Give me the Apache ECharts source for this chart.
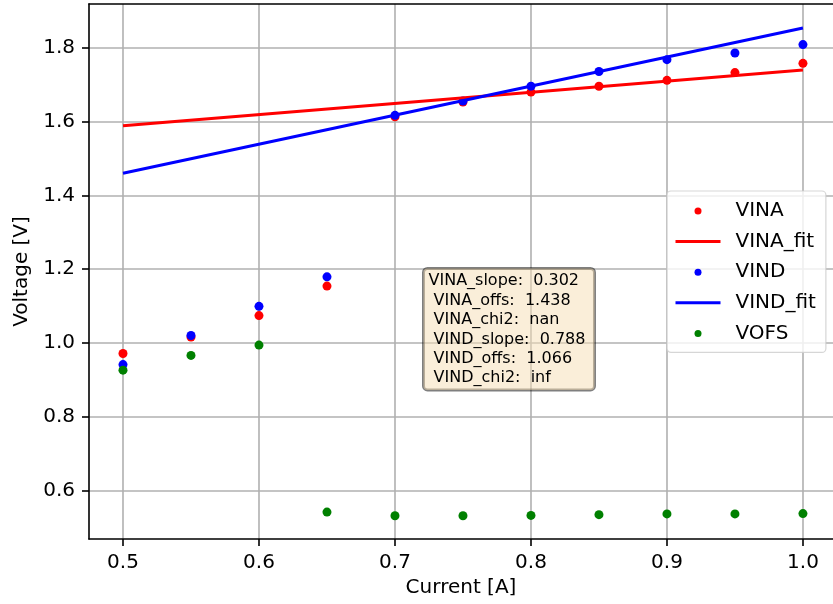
<!DOCTYPE html>
<html>
<head>
<meta charset="utf-8">
<script src="https://cdn.jsdelivr.net/npm/echarts@6/dist/echarts.min.js"></script>
<style>html,body{margin:0;padding:0;background:#fff;}#c{width:833px;height:604px;}</style>
</head>
<body>
<div id="c"></div>
<script>
const current = [0.5, 0.55, 0.6, 0.65, 0.7, 0.75, 0.8, 0.85, 0.9, 0.95, 1.0];
const VINA = [0.971, 1.016, 1.074, 1.154, 1.613, 1.653, 1.680, 1.696, 1.712, 1.733, 1.758];
const VIND = [0.941, 1.020, 1.099, 1.179, 1.617, 1.656, 1.696, 1.736, 1.768, 1.786, 1.809];
const VOFS = [0.926, 0.966, 0.994, 0.541, 0.531, 0.531, 0.532, 0.534, 0.536, 0.536, 0.537];
const fitX = [0.5, 1.0];
const VINA_fit = [1.589, 1.740];
const VIND_fit = [1.460, 1.854];
const xTicks = [0.5, 0.6, 0.7, 0.8, 0.9, 1.0];
const yTicks = [0.6, 0.8, 1.0, 1.2, 1.4, 1.6, 1.8];
const fitText = [
  'VINA_slope:  0.302',
  ' VINA_offs:  1.438',
  ' VINA_chi2:  nan',
  ' VIND_slope:  0.788',
  ' VIND_offs:  1.066',
  ' VIND_chi2:  inf'
];

const pair = (xs, ys) => xs.map((x, i) => [x, ys[i]]);
const FONT = 'DejaVu Sans';
const X_MIN = 0.475, X_MAX = 1.0221;
const chart = echarts.init(document.getElementById('c'), null, {renderer: 'canvas'});
const axisCommon = {
  type: 'value',
  nameLocation: 'middle',
  nameTextStyle: {fontFamily: FONT, fontSize: 20, color: '#000'},
  axisLine: {show: true, lineStyle: {color: '#000', width: 1.6}},
  axisTick: {show: true, length: 7, lineStyle: {color: '#000', width: 1.6}},
  axisLabel: {fontFamily: FONT, fontSize: 20, color: '#000', formatter: v => v.toFixed(1)},
  splitLine: {show: true, lineStyle: {color: '#b0b0b0', width: 1.6}}
};
chart.setOption({
  animation: false,
  backgroundColor: '#fff',
  grid: {left: 89, right: 0, top: 4, bottom: 65},
  xAxis: [
    Object.assign({}, axisCommon, {
      min: X_MIN, max: X_MAX, name: 'Current [A]', nameGap: 38,
      axisTick: Object.assign({}, axisCommon.axisTick, {customValues: xTicks}),
      axisLabel: Object.assign({}, axisCommon.axisLabel, {customValues: xTicks, margin: 14})
    }),
    {
      type: 'value', position: 'top', min: X_MIN, max: X_MAX,
      axisLine: {show: true, onZero: false, lineStyle: {color: '#000', width: 1.6}},
      axisTick: {show: false}, axisLabel: {show: false}, splitLine: {show: false}
    }
  ],
  yAxis: Object.assign({}, axisCommon, {
    min: 0.468, max: 1.919, name: 'Voltage [V]', nameGap: 57,
    axisTick: Object.assign({}, axisCommon.axisTick, {customValues: yTicks}),
    axisLabel: Object.assign({}, axisCommon.axisLabel, {customValues: yTicks, margin: 14})
  }),
  legend: {
    orient: 'vertical', left: 667, top: 191,
    padding: [10, 10, 9, 7],
    itemWidth: 45, itemHeight: 7, itemGap: 10.6,
    backgroundColor: 'rgba(255,255,255,0.8)', borderColor: 'rgba(204,204,204,0.8)', borderWidth: 1.2, borderRadius: 4,
    textStyle: {fontFamily: FONT, fontSize: 20, color: '#000', lineHeight: 20, padding: [0, 0, 0, 10]},
    data: [
      {name: 'VINA', icon: 'circle'},
      {name: 'VINA_fit', itemStyle: {opacity: 0}, lineStyle: {width: 3}},
      {name: 'VIND', icon: 'circle'},
      {name: 'VIND_fit', itemStyle: {opacity: 0}, lineStyle: {width: 3}},
      {name: 'VOFS', icon: 'circle'}
    ],
    z: 20
  },
  graphic: [{
    type: 'text', left: 422, top: 267, z: 15,
    style: {
      text: fitText.join('\n'),
      fontFamily: FONT, fontSize: 16, lineHeight: 19.4, fill: '#000',
      backgroundColor: 'rgba(245,222,179,0.5)', borderColor: 'rgba(0,0,0,0.5)', borderWidth: 1.5, borderRadius: 4,
      padding: [3, 9, 2, 5]
    }
  }],
  series: [
    {name: 'VINA', type: 'scatter', data: pair(current, VINA), symbolSize: 9, itemStyle: {color: '#ff0000', opacity: 1}},
    {name: 'VINA_fit', type: 'line', data: pair(fitX, VINA_fit), symbol: 'none', lineStyle: {color: '#ff0000', width: 3}, itemStyle: {color: '#ff0000'}},
    {name: 'VIND', type: 'scatter', data: pair(current, VIND), symbolSize: 9, itemStyle: {color: '#0000ff', opacity: 1}},
    {name: 'VIND_fit', type: 'line', data: pair(fitX, VIND_fit), symbol: 'none', lineStyle: {color: '#0000ff', width: 3}, itemStyle: {color: '#0000ff'}},
    {name: 'VOFS', type: 'scatter', data: pair(current, VOFS), symbolSize: 9, itemStyle: {color: '#008000', opacity: 1}}
  ]
});
</script>
</body>
</html>
